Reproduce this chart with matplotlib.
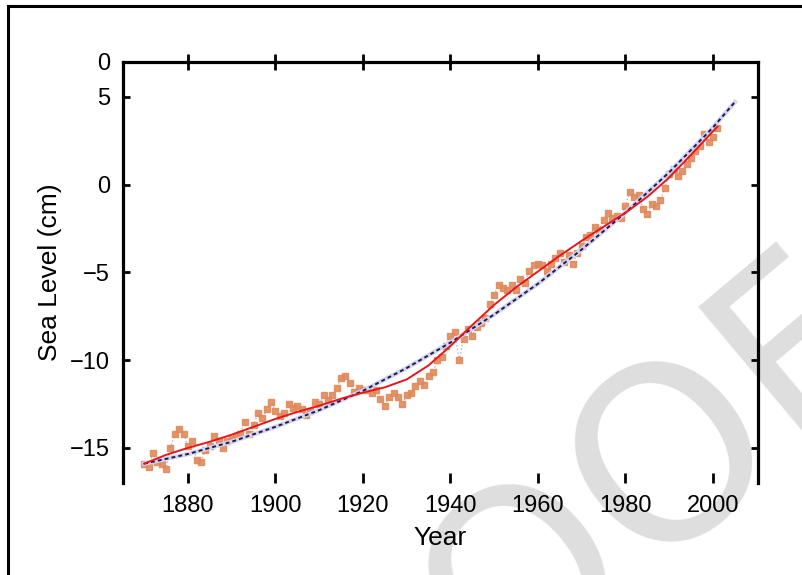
import numpy as np
import matplotlib
matplotlib.use("Agg")
import matplotlib.pyplot as plt
from matplotlib.lines import Line2D

plt.rcParams['font.family'] = ['Liberation Sans', 'DejaVu Sans']

# annual sea level (cm)
years = np.arange(1870, 2002)
sea_level = [
    -15.9, -16.1, -15.3, -15.8, -15.9, -16.2, -15.0, -14.2, -13.9, -14.2,   # 1870s
    -14.9, -14.6, -15.7, -15.8, -15.1, -14.9, -14.3, -14.6, -15.0, -14.6,   # 1880s
    -14.5, -14.3, -14.2, -13.5, -14.2, -13.7, -13.0, -13.3, -12.8, -12.4,   # 1890s
    -12.9, -13.2, -13.0, -12.5, -12.7, -12.6, -12.8, -13.1, -12.9, -12.4,   # 1900s
    -12.5, -12.0, -12.3, -12.0, -11.6, -11.0, -10.9, -11.3, -11.8, -11.6,   # 1910s
    -11.7, -11.7, -11.9, -11.7, -12.2, -12.6, -12.1, -11.9, -12.1, -12.5,   # 1920s
    -12.0, -11.9, -11.5, -11.2, -11.4, -10.9, -10.7, -10.0, -9.8, -9.2,     # 1930s
    -8.6, -8.4, -10.0, -8.8, -8.2, -8.6, -8.1, -7.9, -7.6, -6.8,            # 1940s
    -6.3, -5.7, -5.9, -6.0, -5.7, -6.0, -5.4, -5.6, -4.9, -4.6,             # 1950s
    -4.5, -4.6, -4.9, -4.5, -4.2, -3.9, -4.4, -4.0, -4.5, -3.9,             # 1960s
    -3.5, -3.0, -2.9, -2.4, -2.6, -2.0, -1.6, -1.9, -1.8, -1.9,             # 1970s
    -1.2, -0.4, -0.7, -0.6, -1.4, -1.7, -1.1, -1.2, -0.9, -0.2,             # 1980s
    0.6, 0.9, 0.5, 0.8, 1.2, 1.5, 1.9, 2.2, 2.9, 2.4,                       # 1990s
    2.7, 3.2,                                                               # 2000s
]

# smooth (red) curve
smooth_years = [1870, 1875, 1880, 1885, 1890, 1895, 1900, 1905, 1910, 1915,
                1920, 1925, 1930, 1935, 1940, 1945, 1950, 1955, 1960, 1965,
                1970, 1975, 1980, 1985, 1990, 1995, 2001]
smooth_level = [-15.9, -15.4, -15.0, -14.65, -14.25, -13.8, -13.35, -12.95, -12.6, -12.2,
                -11.85, -11.55, -11.1, -10.3, -9.2, -8.0, -6.85, -5.85, -4.95, -4.05,
                -3.2, -2.4, -1.6, -0.7, 0.4, 1.7, 3.3]

# quadratic (blue) curve
quad_years = [1870, 1880, 1890, 1900, 1910, 1920, 1930, 1940, 1950, 1960,
              1970, 1980, 1990, 2000, 2005]
quad_level = [-15.9, -15.35, -14.65, -13.8, -12.85, -11.75, -10.45, -9.0, -7.4, -5.65,
              -3.7, -1.6, 0.7, 3.25, 4.7]

xticks = [1880, 1900, 1920, 1940, 1960, 1980, 2000]
yticks = [-15, -10, -5, 0, 5, 7]
ytick_labels = ['\u221215', '\u221210', '\u22125', '0', '5', '0']

fig = plt.figure(figsize=(8.03, 5.75), dpi=100)

# watermark behind everything
fig.text(532 / 803, 5 / 575, 'PROOF', fontsize=175, color='#dedede',
         rotation=40, ha='center', va='center', rotation_mode='anchor',
         family='DejaVu Sans', zorder=-5)

# figure frame (left and top edges only visible)
fig.add_artist(Line2D([8 / 803, 8 / 803], [0, 569 / 575], color='black', lw=2.2))
fig.add_artist(Line2D([8 / 803, 1], [569 / 575, 569 / 575], color='black', lw=2.2))

ax = fig.add_axes([0.1528, 0.16, 0.7912, 0.7327])
ax.patch.set_alpha(0)

ax.plot(years, sea_level, color='#b8b8b8', lw=1.0, ls=':', zorder=2)
ax.plot(years, sea_level, ls='none', marker='s', ms=4.6, mfc='#e08a5c',
        mec='#e08a5c', alpha=0.9, zorder=3)

ax.plot(quad_years, quad_level, color='#d4d4f2', lw=3.2, zorder=4)
ax.plot(quad_years, quad_level, color='#1c1c48', lw=1.4, dashes=(2.0, 1.6), zorder=5)
ax.plot(smooth_years, smooth_level, color='#e8161c', lw=1.4, zorder=6)

ax.set_xlim(1865.1, 2010.3)
ax.set_ylim(-17, 7)

ax.set_xticks(xticks)
ax.set_xticklabels([str(y) for y in xticks])
ax.set_yticks(yticks)
ax.set_yticklabels(ytick_labels)

for s in ['left', 'right', 'top']:
    ax.spines[s].set_linewidth(2.3)
ax.spines['bottom'].set_visible(False)
ax.spines['top'].set_visible(False)

ax.tick_params(axis='y', direction='in', length=5, width=2, left=True, right=True,
               labelsize=17, pad=9)
ax.tick_params(axis='x', direction='in', length=7, width=2, bottom=True, top=False,
               labelsize=17, pad=9)
for t in ax.yaxis.get_major_ticks()[-1:]:
    t.tick1line.set_visible(False)
    t.tick2line.set_visible(False)

top = ax.secondary_xaxis('top')
top.set_xticks(xticks)
top.set_xticklabels([])
top.tick_params(direction='inout', length=11, width=2)
top.spines['top'].set_linewidth(2.3)

# fainter ticks at 1940 and 1980
for i in (3, 5):
    ax.xaxis.get_major_ticks()[i].tick1line.set_color('#d0d0d0')
    top.xaxis.get_major_ticks()[i].tick2line.set_color('#d0d0d0')

ax.set_xlabel('Year', fontsize=19, labelpad=6)
ax.set_ylabel('Sea Level (cm)', fontsize=19, labelpad=6)

fig.savefig('out.png', dpi=100)
